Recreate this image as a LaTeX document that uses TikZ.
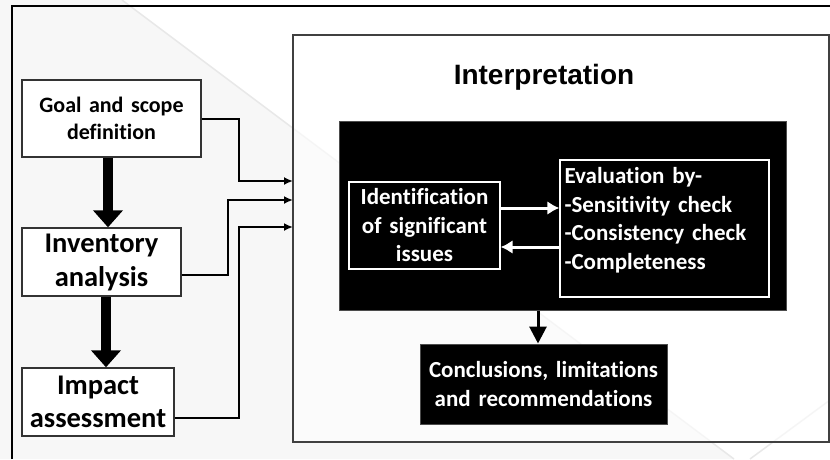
\documentclass[tikz,border=0pt]{standalone}
\usepackage{fontspec}
\setmainfont{Carlito}[Ligatures=NoCommon, WordSpace=1.5]
\newfontfamily\headfont{Liberation Sans}
\usepackage{tikz}
\usetikzlibrary{positioning, arrows.meta, calc}
\tikzset{
  stage/.style={draw=black!80, line width=1.4pt, fill=white, align=center, inner sep=0pt, font=\bfseries},
  darkbox/.style={draw=black!70, line width=1pt, fill=black, text=white, align=center, inner sep=0pt, font=\bfseries\fontsize{23}{28.5}\selectfont},
  feed/.style={line width=2pt, -{Latex[length=9pt,width=8pt]}},
  bigdown/.style={line width=10pt, -{Triangle[length=17pt,width=29pt]}},
  backflow/.style={white, line width=3pt, -{Latex[length=12pt,width=14pt]}}
}

\begin{document}
\begin{tikzpicture}[x=1pt, y=-1pt]
  \useasboundingbox (0,0) rectangle (830,459);
  % faint slide background
  \fill[white] (0,0) rectangle (830,459);
  \fill[black!3] (0,0) -- (122,0) -- (734,459) -- (0,459) -- cycle;
  \draw[black!9, line width=1.5pt] (122,0) -- (734,459);
  \draw[black!9, line width=1.5pt] (750,459) -- (830,400);
  \draw[line width=2pt] (12,459) -- (12,6) -- (830,6);

  \node[stage, minimum width=179pt, minimum height=77pt, font=\bfseries\fontsize{22}{27}\selectfont] (goal) at (111.5,118.5) {Goal and scope\\definition};
  \node[stage, minimum width=159pt, minimum height=68pt, font=\bfseries\fontsize{28.5}{34}\selectfont] (inv) at (101.5,262) {Inventory\\analysis};
  \node[stage, minimum width=152pt, minimum height=68pt, font=\bfseries\fontsize{28.5}{33}\selectfont] (imp) at (98,402) {Impact\\assessment};

  \node[draw=black!75, line width=1.4pt, fill=white, fill opacity=0.6, minimum width=536pt, minimum height=407pt] (interp) at (561,238.5) {};
  \node[font=\headfont\bfseries\fontsize{28}{32}\selectfont] (title) at (544,77) {Interpretation};
  \node[darkbox, minimum width=447pt, minimum height=189pt] (core) at (563,215.5) {};
  \node[darkbox, draw=white, line width=1.4pt, minimum width=151pt, minimum height=87pt] (ident) at (424.5,225.5) {Identification\\of significant\\issues};
  \node[darkbox, draw=white, line width=1.4pt, minimum width=209pt, minimum height=137pt] (eval) at (664.5,228.5) {};
  \node[darkbox, draw=none, fill=none, align=left, anchor=north west] (evaltext) at (564,167) {Evaluation by-\\-Sensitivity check\\-Consistency check\\-Completeness};
  \node[darkbox, minimum width=247pt, minimum height=80pt] (concl) at (543.5,384) {Conclusions, limitations\\and recommendations};

  \coordinate (in1) at (293,181);
  \coordinate (in2) at (293,200);
  \coordinate (in3) at (293,227);
  \draw[feed] (goal.east) -- ++(37,0) |- (in1);
  \draw[feed] ([yshift=-13pt]inv.east) -- ++(46,0) |- (in2);
  \draw[feed] ([yshift=-16pt]imp.east) -- ++(64,0) |- (in3);

  \draw[bigdown] ([xshift=-3.5pt]goal.south) -- ([xshift=-3.5pt]goal.south |- inv.north);
  \draw[bigdown] ([xshift=4.5pt]inv.south) -- ([xshift=4.5pt]inv.south |- imp.north);

  \draw[backflow] ([yshift=17.5pt]ident.east) -- ([yshift=17.5pt]ident.east -| eval.west);
  \draw[backflow] ([yshift=-18.5pt]eval.west) -- ([yshift=-18.5pt]eval.west -| ident.east);
  \draw[line width=3pt, -{Triangle[length=17pt,width=17pt]}] ([xshift=-25pt]core.south) -- ([xshift=-25pt]core.south |- concl.north);
\end{tikzpicture}
\end{document}
